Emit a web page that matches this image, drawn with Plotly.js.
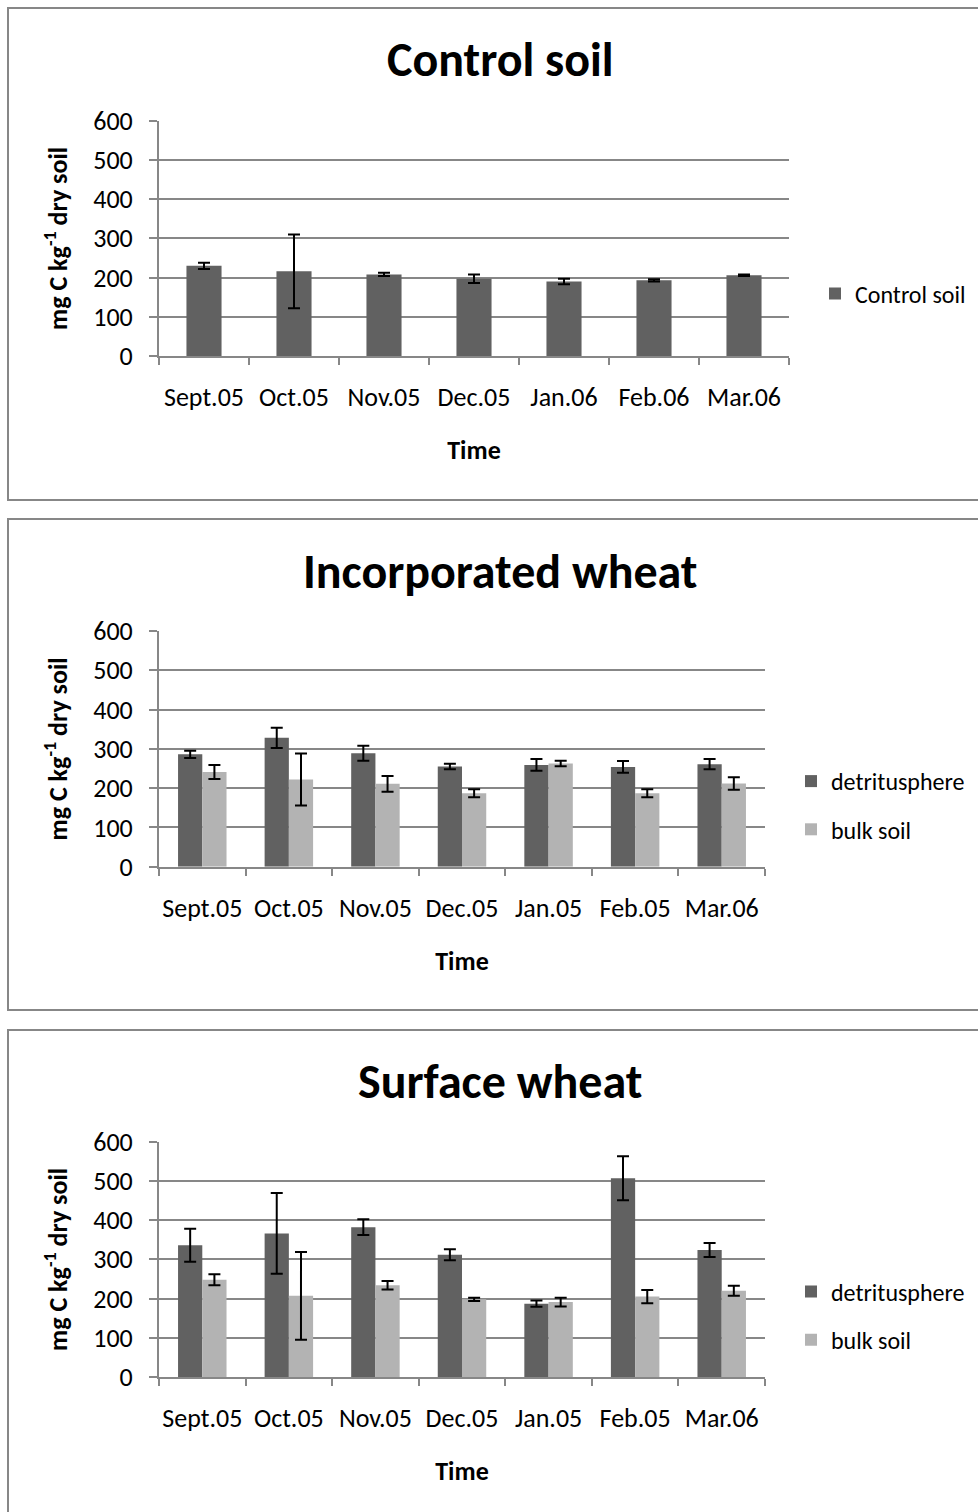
<!DOCTYPE html>
<html>
<head>
<meta charset="utf-8">
<script src="https://cdn.plot.ly/plotly-3.0.1.min.js"></script>
<style>html,body{margin:0;padding:0;background:#fff;}#chart{width:978px;height:1512px;}</style>
</head>
<body>
<div id="chart"></div>
<script>
// ---- data ----
var monthsControl = ['Sept.05','Oct.05','Nov.05','Dec.05','Jan.06','Feb.06','Mar.06'];
var monthsWheat = ['Sept.05','Oct.05','Nov.05','Dec.05','Jan.05','Feb.05','Mar.06'];

var controlVals = [230, 216, 208, 197, 190, 193, 206];
var controlErr  = [8, 94, 4, 11, 7, 3, 2];

var incDetVals  = [286, 328, 289, 255, 259, 254, 261];
var incDetErr   = [9, 26, 19, 7, 15, 15, 13];
var incBulkVals = [241, 222, 211, 187, 263, 187, 212];
var incBulkErr  = [18, 66, 20, 10, 7, 10, 16];

var surDetVals  = [336, 366, 382, 312, 187, 507, 324];
var surDetErr   = [42, 103, 20, 14, 8, 56, 18];
var surBulkVals = [248, 207, 234, 198, 191, 205, 220];
var surBulkErr  = [14, 112, 11, 4, 11, 17, 13];

var panelTitles = ['Control soil', 'Incorporated wheat', 'Surface wheat'];
var yTitle = 'mg C kg<sup>-1</sup> dry soil';
var xTitle = 'Time';

// ---- style ----
var FONT = 'Carlito, Lato, "Open Sans", sans-serif';
var DARK = '#616161', LIGHT = '#b3b3b3', GRID = '#878787';
var W = 978, H = 1512;
function px(x){ return x / W; }
function py(y){ return 1 - y / H; }

function err(arr){ return {type:'data', array:arr, visible:true, color:'#000', thickness:2, width:6}; }

var traces = [
  {type:'bar', x:monthsControl, y:controlVals, name:'Control soil', xaxis:'x', yaxis:'y',
   width:0.39, marker:{color:DARK}, error_y:err(controlErr), legend:'legend'},
  {type:'bar', x:monthsWheat, y:incDetVals, name:'detritusphere', xaxis:'x2', yaxis:'y2',
   width:0.28, offset:-0.28, marker:{color:DARK}, error_y:err(incDetErr), legend:'legend2', legendgroup:'a2'},
  {type:'bar', x:monthsWheat, y:incBulkVals, name:'bulk soil', xaxis:'x2', yaxis:'y2',
   width:0.28, offset:0, marker:{color:LIGHT}, error_y:err(incBulkErr), legend:'legend2', legendgroup:'b2'},
  {type:'bar', x:monthsWheat, y:surDetVals, name:'detritusphere', xaxis:'x3', yaxis:'y3',
   width:0.28, offset:-0.28, marker:{color:DARK}, error_y:err(surDetErr), legend:'legend3', legendgroup:'a3'},
  {type:'bar', x:monthsWheat, y:surBulkVals, name:'bulk soil', xaxis:'x3', yaxis:'y3',
   width:0.28, offset:0, marker:{color:LIGHT}, error_y:err(surBulkErr), legend:'legend3', legendgroup:'b3'}
];

function xax(domain, anchor){
  return {domain:domain, anchor:anchor, type:'category', showgrid:false, zeroline:false,
    showline:true, linecolor:GRID, linewidth:2, ticks:'outside', tickson:'boundaries',
    ticklen:7, tickwidth:2, tickcolor:GRID, ticklabelstandoff:17, tickangle:0,
    tickfont:{family:FONT, size:26, color:'#000'}, fixedrange:true,
    title:{text:'<b>'+xTitle+'</b>', standoff:29, font:{family:FONT, size:26, color:'#000'}}};
}
function yax(domain, anchor){
  return {domain:domain, anchor:anchor, range:[0,600], dtick:100, tick0:0,
    showgrid:true, gridcolor:GRID, gridwidth:2, zeroline:false,
    showline:true, linecolor:GRID, linewidth:2, ticks:'outside', ticklen:8, tickwidth:2, tickcolor:GRID,
    ticklabelstandoff:11, tickfont:{family:FONT, size:26, color:'#000'}, fixedrange:true,
    title:{text:'<b>'+yTitle+'</b>', standoff:18, font:{family:FONT, size:26, color:'#000'}}};
}

var panels = [
  {x0:159, x1:789, top:120.7, bot:356, boxTop:8, boxBot:500, titleY:60},
  {x0:159, x1:765, top:631, bot:866.7, boxTop:519, boxBot:1010, titleY:571},
  {x0:159, x1:765, top:1141.7, bot:1377, boxTop:1030, boxBot:1530, titleY:1081}
];

var annotations = [], shapes = [];
panels.forEach(function(p, i){
  annotations.push({xref:'paper', yref:'paper', x:px(500), y:py(p.titleY), xanchor:'center', yanchor:'middle',
    text:'<b>'+panelTitles[i]+'</b>', showarrow:false, font:{family:FONT, size:48, color:'#000'}});
  shapes.push({type:'rect', xref:'paper', yref:'paper', x0:px(8), x1:1.05, y0:py(p.boxBot), y1:py(p.boxTop),
    line:{color:GRID, width:2}, fillcolor:'rgba(0,0,0,0)', layer:'below'});
});

var legFont = {family:FONT, size:24, color:'#000'};
var layout = {
  width:W, height:H, margin:{l:0, r:0, t:0, b:0}, paper_bgcolor:'#fff', plot_bgcolor:'#fff',
  barmode:'overlay', showlegend:true,
  font:{family:FONT, size:20, color:'#000'},
  xaxis: xax([px(panels[0].x0), px(panels[0].x1)], 'y'),
  yaxis: yax([py(panels[0].bot), py(panels[0].top)], 'x'),
  xaxis2: xax([px(panels[1].x0), px(panels[1].x1)], 'y2'),
  yaxis2: yax([py(panels[1].bot), py(panels[1].top)], 'x2'),
  xaxis3: xax([px(panels[2].x0), px(panels[2].x1)], 'y3'),
  yaxis3: yax([py(panels[2].bot), py(panels[2].top)], 'x3'),
  legend: {x:px(815), y:py(294), xanchor:'left', yanchor:'middle', bgcolor:'rgba(0,0,0,0)', font:legFont},
  legend2: {x:px(791), y:py(805.5), xanchor:'left', yanchor:'middle', bgcolor:'rgba(0,0,0,0)',
    traceorder:'grouped', tracegroupgap:14, font:legFont},
  legend3: {x:px(791), y:py(1316), xanchor:'left', yanchor:'middle', bgcolor:'rgba(0,0,0,0)',
    traceorder:'grouped', tracegroupgap:14, font:legFont},
  annotations: annotations,
  shapes: shapes
};

Plotly.newPlot('chart', traces, layout, {displayModeBar:false, staticPlot:true});
</script>
</body>
</html>
